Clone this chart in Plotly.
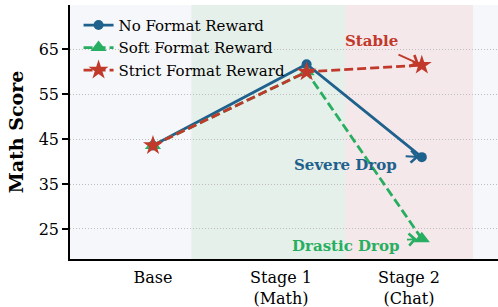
import plotly.graph_objects as go

# ---- data ----
stages = ["Base", "Stage 1<br>(Math)", "Stage 2<br>(Chat)"]
tick_pos = [0, 1, 2]
point_x = [0, 1.2, 2.1]
no_format = [43.6, 61.7, 41.0]
soft_format = [43.6, 60.0, 22.8]
strict_format = [43.6, 60.0, 61.5]
y_ticks = [25, 35, 45, 55, 65]

BLUE = "#1f618d"
GREEN = "#27ae60"
RED = "#c0392b"
FONT = "DejaVu Serif"

fig = go.Figure()
fig.add_trace(go.Scatter(x=point_x, y=no_format, mode="lines+markers", name="No Format Reward",
                         line=dict(color=BLUE, width=2.8),
                         marker=dict(symbol="circle", size=10, color=BLUE)))
fig.add_trace(go.Scatter(x=point_x, y=soft_format, mode="lines+markers", name="Soft Format Reward",
                         line=dict(color=GREEN, width=2.8, dash="9px,4px"),
                         marker=dict(symbol="triangle-up", size=14, color=GREEN)))
fig.add_trace(go.Scatter(x=point_x, y=strict_format, mode="lines+markers", name="Strict Format Reward",
                         line=dict(color=RED, width=2.8, dash="9px,4px"),
                         marker=dict(symbol="star", size=15, color=RED)))

# background bands
fig.add_shape(type="rect", xref="x", yref="paper", x0=0.3, x1=1.5, y0=0, y1=1,
              fillcolor="#e6f0ea", line_width=0, layer="below")
fig.add_shape(type="rect", xref="x", yref="paper", x0=1.5, x1=2.5, y0=0, y1=1,
              fillcolor="#f5e8ea", line_width=0, layer="below")

def ann(text, color, px, py, tx, ty, ax0, ay0, standoff):
    # label
    fig.add_annotation(x=tx, y=ty, xref="x", yref="y", text=f"<b>{text}</b>", showarrow=False,
                       xanchor="center", yanchor="middle",
                       font=dict(family=FONT, size=15, color=color))
    # arrow (tiny invisible text box so the shaft is not clipped)
    fig.add_annotation(x=px, y=py, xref="x", yref="y", ax=ax0, ay=ay0, axref="x", ayref="y",
                       text="", showarrow=True, arrowhead=4, arrowsize=1.3,
                       arrowwidth=1.8, arrowcolor=color, standoff=standoff, startstandoff=0,
                       font=dict(size=1), borderpad=0)

ann("Stable", RED, point_x[2], strict_format[2], 1.707, 66.9, 1.914, 63.9, 3)
ann("Severe Drop", BLUE, point_x[2], no_format[2], 1.504, 39.2, 1.97, 41.2, 3)
ann("Drastic Drop", GREEN, point_x[2], soft_format[2], 1.504, 21.3, 1.98, 22.6, 5)

fig.update_layout(
    width=498, height=307,
    margin=dict(l=70, r=0, t=5, b=48),
    paper_bgcolor="white",
    plot_bgcolor="#f6f7fa",
    font=dict(family=FONT, size=16, color="black"),
    showlegend=True,
    legend=dict(x=0.02, y=0.985, xanchor="left", yanchor="top",
                bgcolor="rgba(0,0,0,0)", font=dict(size=15, family=FONT),
                tracegroupgap=0),
    xaxis=dict(range=[-0.648, 2.695], tickvals=tick_pos, ticktext=stages,
               showgrid=False, zeroline=False, showline=True, linecolor="black",
               linewidth=1.5, ticks="", tickfont=dict(size=16), automargin=False,
               ticklabelstandoff=3),
    yaxis=dict(range=[18.3, 74.9], tickvals=y_ticks, showgrid=True,
               gridcolor="#bdbdbd", griddash="1px,2px", gridwidth=1,
               zeroline=False, showline=True, linecolor="black", linewidth=1.5,
               ticks="outside", ticklen=6, tickwidth=1.5, tickcolor="black",
               tickfont=dict(size=16), automargin=False,
               title=dict(text="<b>Math Score</b>", font=dict(size=19), standoff=10)),
)

fig.write_html("out.html", config={"displayModeBar": False},
               post_script="document.body.style.margin='0';document.body.style.overflow='hidden';")
